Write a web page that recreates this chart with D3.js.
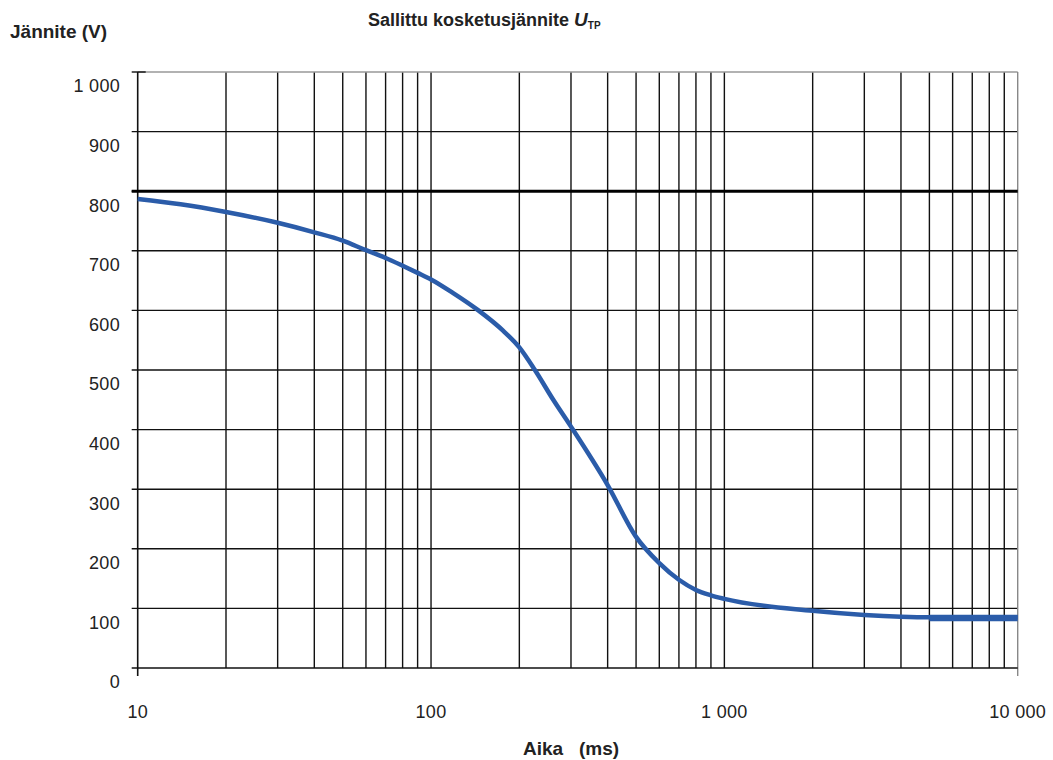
<!DOCTYPE html>
<html>
<head>
<meta charset="utf-8">
<script src="https://cdn.jsdelivr.net/npm/d3@7"></script>
<style>
  body { margin: 0; background: #fff; }
  text { font-family: "Liberation Sans", Arial, sans-serif; fill: #222; }
</style>
</head>
<body>
<script>
// Data
const timeMs = [10, 14, 20, 30, 40, 50, 60, 70, 80, 90, 100, 119, 145, 176, 200, 226, 261, 300, 400, 500, 600, 700, 800, 900, 1000, 2000, 3000, 4000, 5000, 10000];
const voltage = [787, 778, 765, 747, 731, 717, 701, 688, 675, 663, 652, 629, 600, 566, 538, 500, 450, 405, 307, 220, 176, 148, 131, 122, 116, 96, 89, 86, 85, 85];
const flatTime = [5000, 10000];
const flatVoltage = [84, 84];
const xTicks = [10, 100, 1000, 10000];
const xTickLabels = ["10", "100", "1 000", "10 000"];
const yTicks = [0, 100, 200, 300, 400, 500, 600, 700, 800, 900, 1000];
const yTickLabels = ["0", "100", "200", "300", "400", "500", "600", "700", "800", "900", "1 000"];
const limitVoltage = 800;

const width = 1053, height = 760;
const mLeft = 137.7, mRight = 1017.7, mTop = 72, mBottom = 668;

const svg = d3.select("body").append("svg")
  .attr("width", width)
  .attr("height", height);

const x = d3.scaleLog().domain([10, 10000]).range([mLeft, mRight]);
const y = d3.scaleLinear().domain([0, 1000]).range([mBottom, mTop]);

// minor log grid values
const gridX = [];
for (let d = 10; d < 10000; d *= 10) {
  for (let k = 2; k <= 10; k++) gridX.push(d * k);
}

//Grid
svg.append("g").selectAll("line")
  .data(gridX.filter(v => v < 10000))
  .join("line")
  .attr("x1", d => x(d)).attr("x2", d => x(d))
  .attr("y1", mTop).attr("y2", mBottom)
  .attr("stroke", "#111").attr("stroke-width", 1.4);

svg.append("g").selectAll("line")
  .data(yTicks.filter(v => v > 0 && v < 1000))
  .join("line")
  .attr("x1", mLeft - 6).attr("x2", mRight)
  .attr("y1", d => y(d)).attr("y2", d => y(d))
  .attr("stroke", "#111").attr("stroke-width", 1.4);

// borders
svg.append("line").attr("x1", mLeft).attr("x2", mRight).attr("y1", mTop).attr("y2", mTop)
  .attr("stroke", "#999").attr("stroke-width", 1.4);
svg.append("line").attr("x1", mLeft - 6).attr("x2", mLeft + 8).attr("y1", mTop).attr("y2", mTop)
  .attr("stroke", "#111").attr("stroke-width", 1.4);
svg.append("line").attr("x1", mRight).attr("x2", mRight).attr("y1", mTop).attr("y2", mBottom + 8)
  .attr("stroke", "#888").attr("stroke-width", 1.4);
svg.append("line").attr("x1", mLeft).attr("x2", mLeft).attr("y1", mTop).attr("y2", mBottom + 8)
  .attr("stroke", "#111").attr("stroke-width", 1.6);
svg.append("line").attr("x1", mLeft - 6).attr("x2", mRight).attr("y1", mBottom).attr("y2", mBottom)
  .attr("stroke", "#111").attr("stroke-width", 1.6);

// 800 V limit
svg.append("line")
  .attr("x1", mLeft - 6).attr("x2", mRight)
  .attr("y1", y(limitVoltage)).attr("y2", y(limitVoltage))
  .attr("stroke", "#000").attr("stroke-width", 3);

// Tick labels
svg.append("g").selectAll("text")
  .data(yTicks)
  .join("text")
  .attr("x", 120)
  .attr("y", d => y(d) + 14)
  .attr("dy", "0.35em")
  .attr("text-anchor", "end")
  .style("font-size", "18px")
  .style("letter-spacing", "0.3px")
  .text((d, i) => yTickLabels[i]);

svg.append("g").selectAll("text")
  .data(xTicks)
  .join("text")
  .attr("x", d => x(d))
  .attr("y", 718)
  .attr("text-anchor", "middle")
  .style("font-size", "18px")
  .style("letter-spacing", "0.3px")
  .text((d, i) => xTickLabels[i]);

//Curve
const line = d3.line()
  .x(d => x(d[0]))
  .y(d => y(d[1]))
  .curve(d3.curveMonotoneX);

svg.append("path")
  .datum(timeMs.map((t, i) => [t, voltage[i]]))
  .attr("d", line)
  .attr("fill", "none")
  .attr("stroke", "#2b5ca9")
  .attr("stroke-width", 4.5);

svg.append("path")
  .datum(flatTime.map((t, i) => [t, flatVoltage[i]]))
  .attr("d", line)
  .attr("fill", "none")
  .attr("stroke", "#2b5ca9")
  .attr("stroke-width", 6.5);

//Titles
svg.append("text")
  .attr("x", 10).attr("y", 38)
  .style("font-size", "19px").style("font-weight", "bold")
  .text("Jännite (V)");

const title = svg.append("text")
  .attr("x", 368).attr("y", 26)
  .style("font-size", "18px").style("font-weight", "bold");
title.append("tspan").text("Sallittu kosketusjännite  ");
title.append("tspan").style("font-style", "italic").style("font-size", "19px").text("U");
title.append("tspan").attr("dy", 3).style("font-size", "10px").text("TP");

svg.append("text")
  .attr("x", 523).attr("y", 755)
  .style("font-size", "19px").style("font-weight", "bold")
  .attr("xml:space", "preserve")
  .text("Aika   (ms)");
</script>
</body>
</html>
